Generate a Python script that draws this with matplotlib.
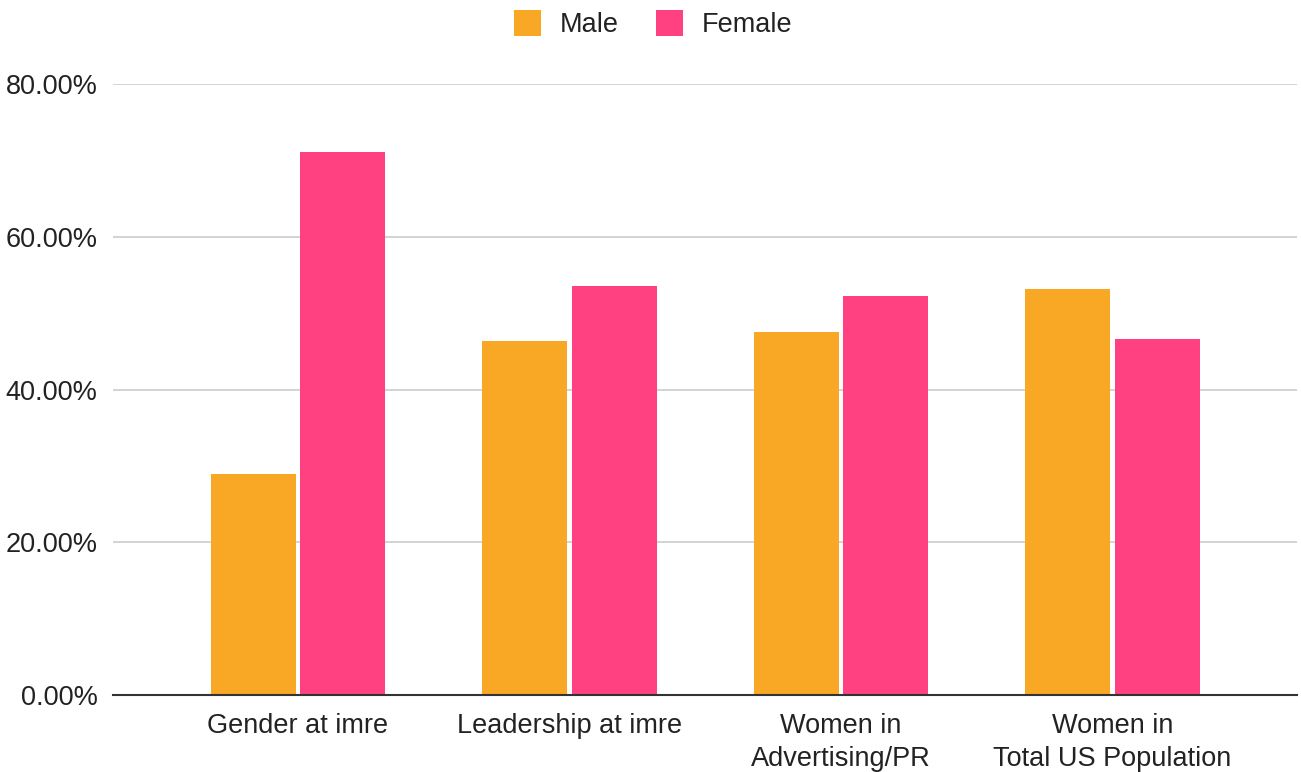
import matplotlib
matplotlib.use("Agg")
import matplotlib.pyplot as plt
from matplotlib.patches import Patch
from matplotlib.ticker import FuncFormatter
import numpy as np

categories = ["Gender at imre", "Leadership at imre", "Women in\nAdvertising/PR", "Women in\nTotal US Population"]
male = [28.9, 46.3, 47.5, 53.2]
female = [71.1, 53.5, 52.3, 46.6]
series_names = ["Male", "Female"]
yticks = [0, 20, 40, 60, 80]

c_male = "#F9A825"
c_female = "#FF4081"

plt.rcParams['font.family'] = ['Liberation Sans', 'DejaVu Sans']

fig = plt.figure(figsize=(13.01, 7.72), dpi=100)
ax = fig.add_axes([113/1301, 1-695/772, (1297-113)/1301, (695-84)/772])

sp = 271.5
x = np.arange(len(categories))
w = 85/sp
off = (85/2 + 2.25)/sp
ax.bar(x - off, male, width=w, color=c_male, zorder=3)
ax.bar(x + off, female, width=w, color=c_female, zorder=3)

ax.set_xlim(-185/sp, 3 + 184.5/sp)
ax.set_ylim(0, 80)
ax.set_yticks(yticks)
ax.yaxis.set_major_formatter(FuncFormatter(lambda v, p: f"{v:.2f}%"))
ax.set_xticks(x)
ax.set_xticklabels(categories, linespacing=1.36)
ax.tick_params(axis='both', length=0, labelsize=19.5, colors="#222222")
ax.tick_params(axis='y', pad=11)
ax.tick_params(axis='x', pad=13)
ax.grid(axis='y', color="#cccccc", linewidth=1.2, zorder=0)
for s in ['top', 'right', 'left']:
    ax.spines[s].set_visible(False)
ax.spines['bottom'].set_color("#333333")
ax.spines['bottom'].set_linewidth(1.5)
ax.spines['bottom'].set_zorder(4)

handles = [Patch(facecolor=c_male, edgecolor='none'), Patch(facecolor=c_female, edgecolor='none')]
fig.legend(handles, series_names, loc='center', bbox_to_anchor=(0.502, 1-24/772),
           ncol=2, frameon=False, fontsize=19.5, handlelength=1.0, handleheight=1.1,
           handletextpad=0.7, columnspacing=1.35, labelcolor="#222222")

fig.savefig("out.png", dpi=100, facecolor="white")
